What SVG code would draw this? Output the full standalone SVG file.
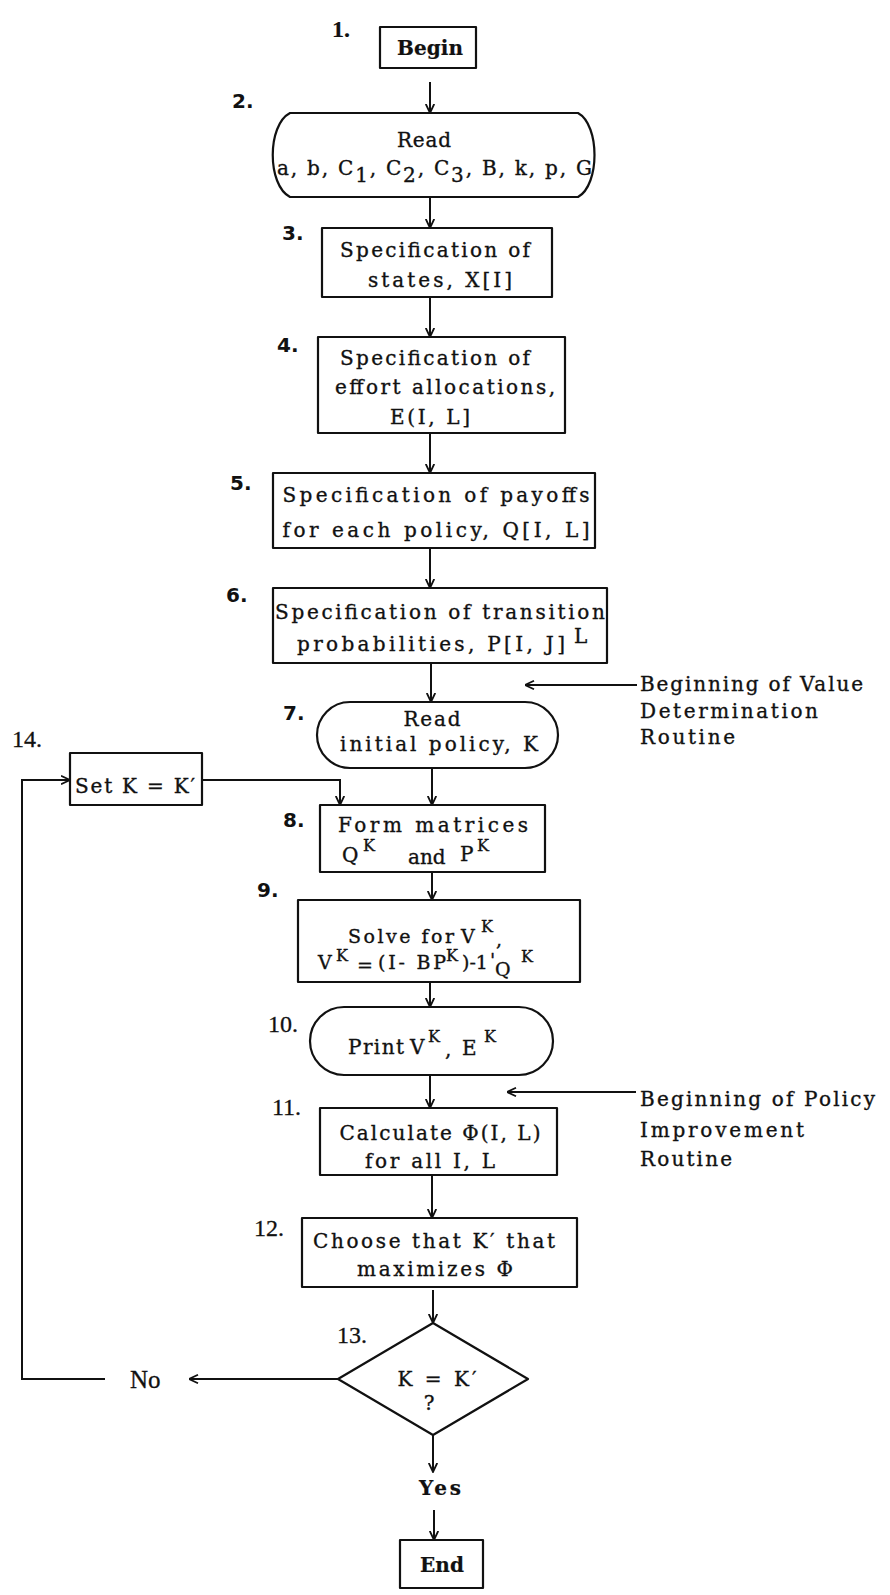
<svg xmlns="http://www.w3.org/2000/svg" width="890" height="1595" viewBox="0 0 890 1595">
<style>
.box{fill:#fff;stroke:#111;stroke-width:2.2;stroke-linejoin:round}
.ln{fill:none;stroke:#111;stroke-width:2}
.t{font-family:"DejaVu Serif","Liberation Serif",serif;font-size:20px;fill:#111;stroke:#111;stroke-width:0.35}
.c{text-anchor:middle}
.b{font-weight:bold;stroke-width:0.2}
.sup{font-size:16px}
.ns{font-family:"DejaVu Sans","Liberation Sans",sans-serif;font-size:20px;font-weight:bold;fill:#111}
.nr{font-family:"Liberation Serif",serif;font-size:24px;fill:#111;stroke:#111;stroke-width:0.3}
.ann{font-family:"DejaVu Serif","Liberation Serif",serif;font-size:20px;fill:#111;stroke:#111;stroke-width:0.35}
</style>
<defs>
<marker id="ah" viewBox="0 0 10 10" refX="9.5" refY="5" markerWidth="10" markerHeight="10" markerUnits="userSpaceOnUse" orient="auto">
<path d="M0.5,0.8 L9.5,5 L0.5,9.2" fill="none" stroke="#111" stroke-width="1.8"/>
</marker>
</defs>
<rect width="890" height="1595" fill="#fff"/>

<g id="connectors">
<path class="ln" d="M430,82 V113" marker-end="url(#ah)"/>
<path class="ln" d="M430,197 V228" marker-end="url(#ah)"/>
<path class="ln" d="M430,297 V337" marker-end="url(#ah)"/>
<path class="ln" d="M430,433 V473" marker-end="url(#ah)"/>
<path class="ln" d="M430,548 V588" marker-end="url(#ah)"/>
<path class="ln" d="M431,663 V702" marker-end="url(#ah)"/>
<path class="ln" d="M432,768 V805" marker-end="url(#ah)"/>
<path class="ln" d="M202,780 H340 V805" marker-end="url(#ah)"/>
<path class="ln" d="M432,872 V900" marker-end="url(#ah)"/>
<path class="ln" d="M430,982 V1007" marker-end="url(#ah)"/>
<path class="ln" d="M430,1075 V1108" marker-end="url(#ah)"/>
<path class="ln" d="M432,1175 V1218" marker-end="url(#ah)"/>
<path class="ln" d="M433,1290 V1323" marker-end="url(#ah)"/>
<path class="ln" d="M433,1435 V1472" marker-end="url(#ah)"/>
<path class="ln" d="M434,1510 V1540" marker-end="url(#ah)"/>
<path class="ln" d="M338,1379 H189" marker-end="url(#ah)"/>
<path class="ln" d="M105,1379 H22 V780 H70" marker-end="url(#ah)"/>
<path class="ln" d="M637,685 H525" marker-end="url(#ah)"/>
<path class="ln" d="M636,1092 H507" marker-end="url(#ah)"/>
</g>

<g id="n1">
<text class="t b" x="332" y="37" style="font-family:'Liberation Serif',serif;font-size:24px">1.</text>
<rect class="box" x="380" y="27" width="96" height="41"/>
<text class="t b c" x="430" y="55" textLength="66">Begin</text>
</g>

<g id="n2">
<text class="ns" x="232" y="108">2.</text>
<path class="box" d="M290,113 H578 C600,125 600,185 578,197 H290 C267,185 267,125 290,113 Z"/>
<text class="t c" x="424" y="147" textLength="54">Read</text>
<text class="t" x="277" y="175" textLength="315">a, b, C<tspan dy="7">1</tspan><tspan dy="-7">, C</tspan><tspan dy="7">2</tspan><tspan dy="-7">, C</tspan><tspan dy="7">3</tspan><tspan dy="-7">, B, k, p, G</tspan></text>
</g>

<g id="n3">
<text class="ns" x="282" y="240">3.</text>
<rect class="box" x="322" y="228" width="230" height="69"/>
<text class="t c" x="435" y="257" textLength="190">Specification of</text>
<text class="t c" x="440" y="287" textLength="144">states, X[I]</text>
</g>

<g id="n4">
<text class="ns" x="277" y="352">4.</text>
<rect class="box" x="318" y="337" width="247" height="96"/>
<text class="t c" x="435" y="365" textLength="190">Specification of</text>
<text class="t c" x="445" y="394" textLength="220">effort allocations,</text>
<text class="t c" x="430" y="424" textLength="80">E(I, L]</text>
</g>

<g id="n5">
<text class="ns" x="230" y="490">5.</text>
<rect class="box" x="273" y="473" width="322" height="75"/>
<text class="t c" x="436" y="502" textLength="307">Specification of payoffs</text>
<text class="t c" x="436" y="537" textLength="307">for each policy, Q[I, L]</text>
</g>

<g id="n6">
<text class="ns" x="226" y="602">6.</text>
<rect class="box" x="273" y="588" width="334" height="75"/>
<text class="t c" x="440" y="619" textLength="330">Specification of transition</text>
<text class="t"><tspan x="297" y="651" textLength="268">probabilities, P[I, J]</tspan><tspan x="574" y="643">L</tspan></text>
</g>

<g id="n7">
<text class="ns" x="283" y="720">7.</text>
<rect class="box" x="317" y="702" width="241" height="66" rx="33" ry="33"/>
<text class="t c" x="432" y="726" textLength="57">Read</text>
<text class="t c" x="439" y="751" textLength="198">initial policy, K</text>
</g>

<g id="ann1">
<text class="ann" x="640" y="691" textLength="223">Beginning of Value</text>
<text class="ann" x="640" y="718" textLength="178">Determination</text>
<text class="ann" x="640" y="744" textLength="95">Routine</text>
</g>

<g id="n14">
<text class="nr" x="12" y="747">14.</text>
<rect class="box" x="70" y="753" width="132" height="52"/>
<text class="t" x="75" y="793" textLength="120">Set K = K′</text>
</g>

<g id="n8">
<text class="ns" x="283" y="827">8.</text>
<rect class="box" x="320" y="805" width="225" height="67"/>
<text class="t c" x="433" y="832" textLength="190">Form matrices</text>
<text class="t"><tspan x="342" y="862">Q</tspan><tspan class="sup" x="363" y="851">K</tspan><tspan x="408" y="864">and</tspan><tspan x="460" y="861">P</tspan><tspan class="sup" x="477" y="851">K</tspan></text>
</g>

<g id="n9">
<text class="ns" x="257" y="897">9.</text>
<rect class="box" x="298" y="900" width="282" height="82"/>
<text class="t" style="font-size:19px"><tspan x="348" y="943" textLength="106">Solve for</tspan><tspan x="461" y="943">V</tspan><tspan class="sup" x="481" y="932">K</tspan><tspan x="496" y="946">,</tspan></text>
<text class="t" style="font-size:19px"><tspan x="318" y="969">V</tspan><tspan class="sup" x="336" y="961">K</tspan><tspan x="357" y="972">=</tspan><tspan x="378" y="969" textLength="68">(I- BP</tspan><tspan class="sup" x="446" y="961">K</tspan><tspan x="462" y="969">)-1</tspan><tspan x="490" y="967">'</tspan><tspan x="495" y="976">Q</tspan><tspan class="sup" x="521" y="962">K</tspan></text>
</g>

<g id="n10">
<text class="nr" x="268" y="1032">10.</text>
<rect class="box" x="310" y="1007" width="243" height="68" rx="34" ry="34"/>
<text class="t"><tspan x="348" y="1054" textLength="56">Print</tspan><tspan x="410" y="1054">V</tspan><tspan class="sup" x="428" y="1042">K</tspan><tspan x="445" y="1056">,</tspan><tspan x="462" y="1055">E</tspan><tspan class="sup" x="484" y="1042">K</tspan></text>
</g>

<g id="n11">
<text class="nr" x="272" y="1115">11.</text>
<rect class="box" x="320" y="1108" width="237" height="67"/>
<text class="t c" x="440" y="1140" textLength="201">Calculate Φ(I, L)</text>
<text class="t c" x="430" y="1168" textLength="130">for all I, L</text>
</g>

<g id="ann2">
<text class="ann" x="640" y="1106" textLength="235">Beginning of Policy</text>
<text class="ann" x="640" y="1137" textLength="164">Improvement</text>
<text class="ann" x="640" y="1166" textLength="92">Routine</text>
</g>

<g id="n12">
<text class="nr" x="254" y="1236">12.</text>
<rect class="box" x="302" y="1218" width="275" height="69"/>
<text class="t c" x="434" y="1248" textLength="242">Choose that  K′ that</text>
<text class="t c" x="435" y="1276" textLength="156">maximizes Φ</text>
</g>

<g id="n13">
<text class="nr" x="337" y="1343">13.</text>
<polygon class="box" points="433,1323 528,1379 433,1435 338,1379"/>
<text class="t c" x="437" y="1386" textLength="79">K = K′</text>
<text class="t c" x="429" y="1410">?</text>
</g>

<g id="no">
<text class="nr" x="130" y="1388" style="font-size:25px">No</text>
</g>

<g id="yes">
<text class="t b c" x="440" y="1495" textLength="42">Yes</text>
</g>

<g id="end">
<rect class="box" x="400" y="1540" width="83" height="48"/>
<text class="t b c" x="442" y="1572" textLength="44">End</text>
</g>
</svg>
